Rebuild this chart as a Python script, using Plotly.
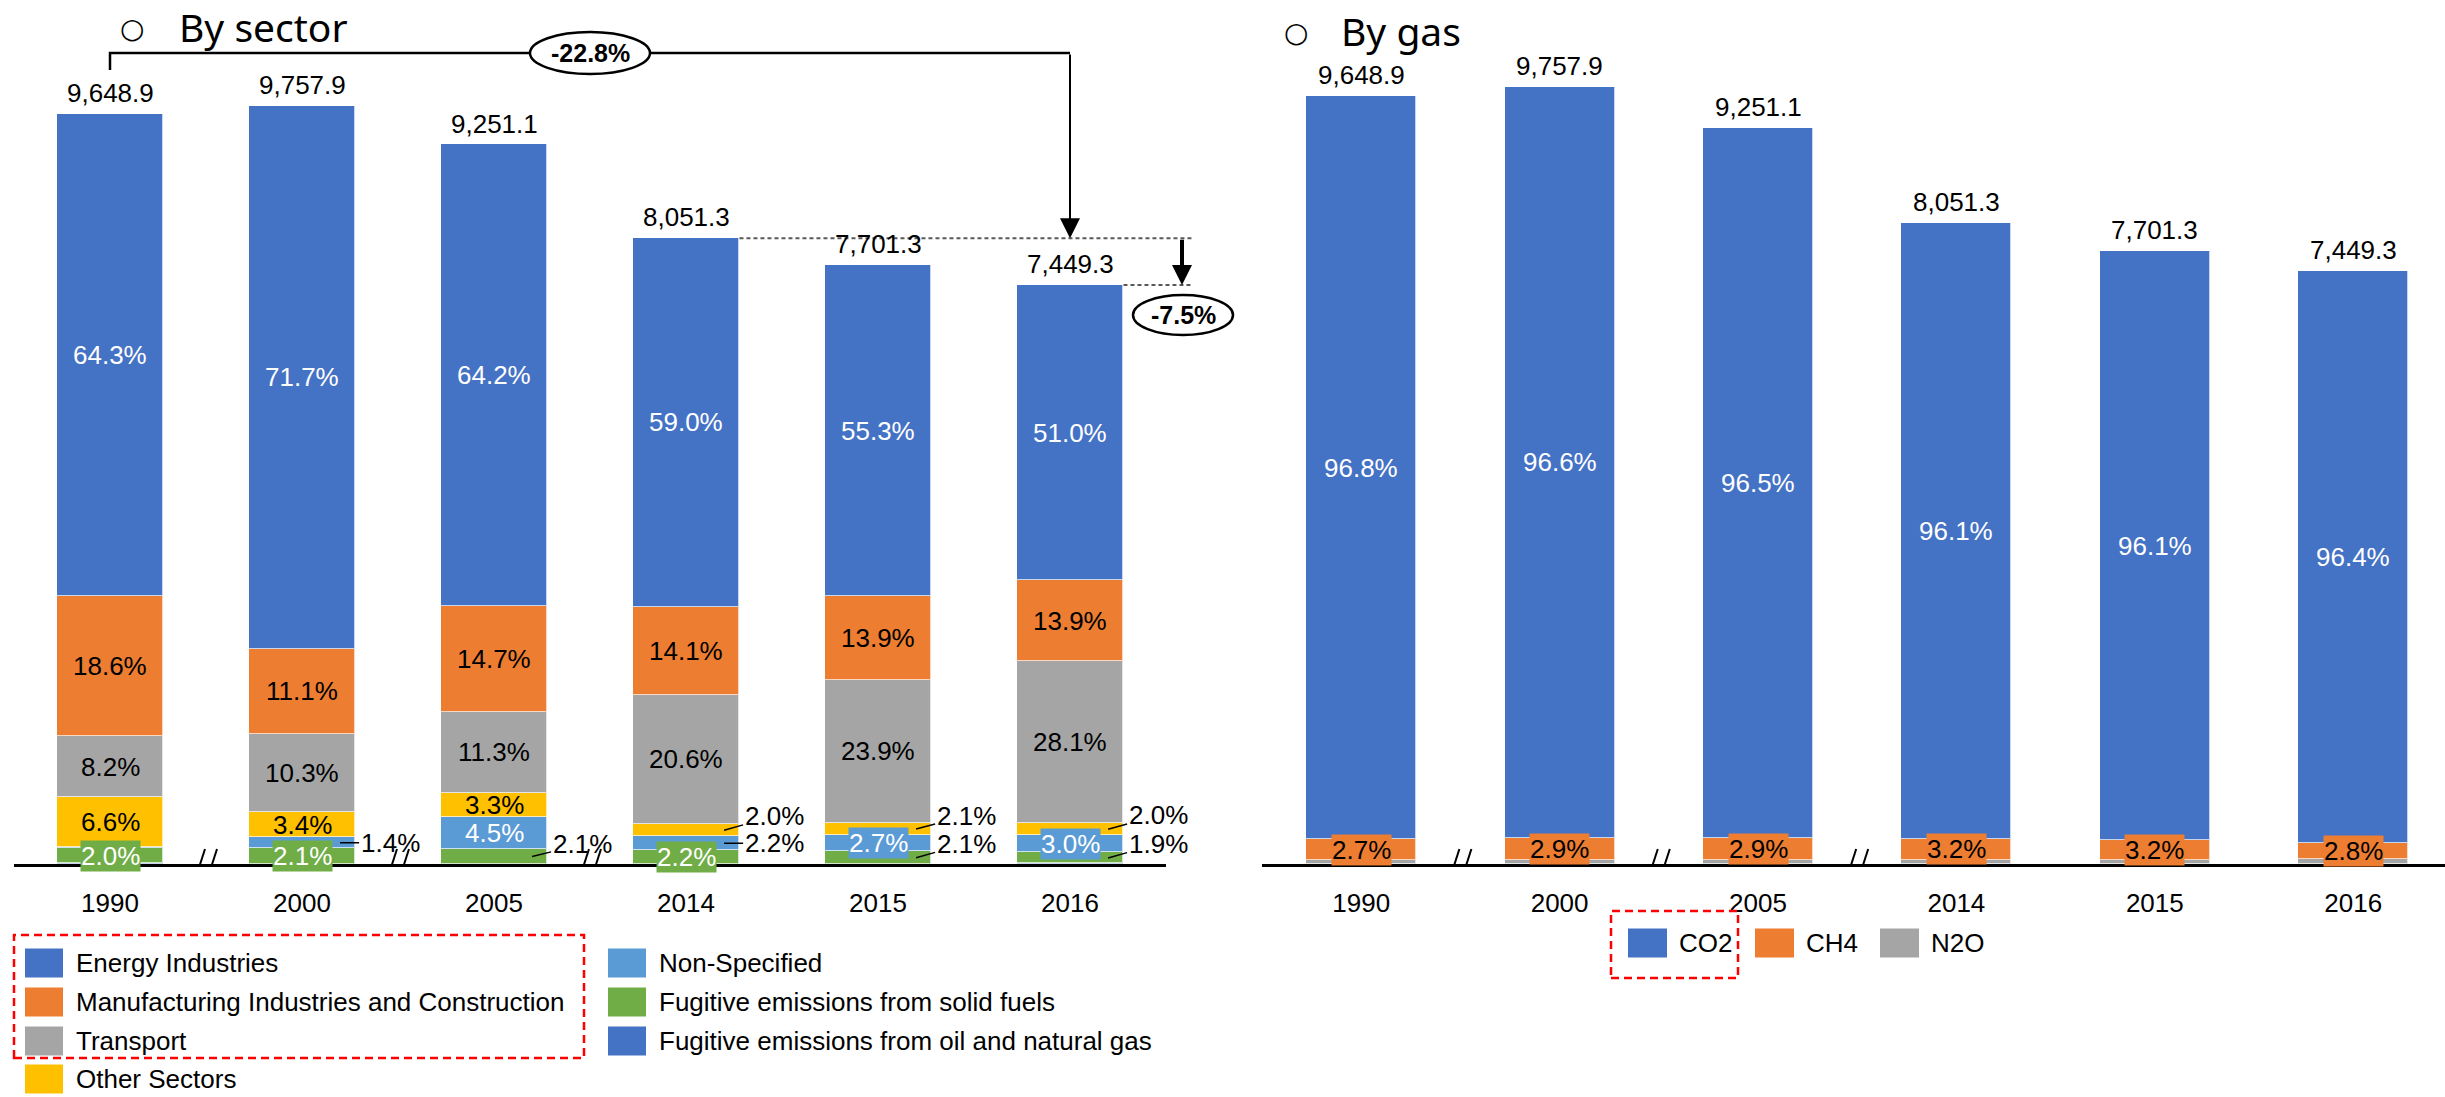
import plotly.graph_objects as go

W, H = 2445, 1097
FONT = "Arial, Liberation Sans, sans-serif"

years = ["1990", "2000", "2005", "2014", "2015", "2016"]
totals = [9648.9, 9757.9, 9251.1, 8051.3, 7701.3, 7449.3]

# Sector shares (%), bottom of the stack first
oil_gas = [0.1, 0.0, 0.0, 0.0, 0.0, 0.1]
solid_fuels = [2.0, 2.1, 2.1, 2.2, 2.1, 1.9]
non_specified = [0.2, 1.4, 4.5, 2.2, 2.7, 3.0]
other_sectors = [6.6, 3.4, 3.3, 2.0, 2.1, 2.0]
transport = [8.2, 10.3, 11.3, 20.6, 23.9, 28.1]
manufacturing = [18.6, 11.1, 14.7, 14.1, 13.9, 13.9]
energy = [64.3, 71.7, 64.2, 59.0, 55.3, 51.0]

# Gas shares (%), bottom of the stack first
n2o = [0.5, 0.5, 0.6, 0.7, 0.7, 0.8]
ch4 = [2.7, 2.9, 2.9, 3.2, 3.2, 2.8]
co2 = [96.8, 96.6, 96.5, 96.1, 96.1, 96.4]

WHITE, BLACK = "white", "black"
IN, BOX = "in", "box"

# name, shares, colour, label colour, label placement per year
sectors = [
    ("Fugitive emissions from oil and natural gas", oil_gas, "#4472C4", WHITE,
     [None] * 6),
    ("Fugitive emissions from solid fuels", solid_fuels, "#70AD47", WHITE,
     [BOX, BOX, ("out", -12), BOX, ("out", -14), ("out", -14)]),
    ("Non-Specified", non_specified, "#5B9BD5", WHITE,
     [None, ("out", 0), IN, ("out", 0), BOX, BOX]),
    ("Other Sectors", other_sectors, "#FFC000", BLACK,
     [IN, IN, IN, ("out", -14), ("out", -13), ("out", -14)]),
    ("Transport", transport, "#A5A5A5", BLACK, [IN] * 6),
    ("Manufacturing Industries and Construction", manufacturing, "#ED7D31", BLACK, [IN] * 6),
    ("Energy Industries", energy, "#4472C4", WHITE, [IN] * 6),
]

gases = [
    ("N2O", n2o, "#A5A5A5", BLACK, [None] * 6),
    ("CH4", ch4, "#ED7D31", BLACK, [BOX] * 6),
    ("CO2", co2, "#4472C4", WHITE, [IN] * 6),
]

# Panel geometry (pixels)
L_X0, L_STEP = 14, 192.0
R_X0, R_STEP = 1262, 198.4
BASE_PX = 864
L_BW, R_BW = 0.557, 0.554


def lx(u):
    """Left-panel category coordinate -> paper fraction."""
    return (L_X0 + (u + 0.5) * L_STEP) / W


def py(px):
    return 1 - px / H


fig = go.Figure()
annotations = []
shapes = []


def add_panel(groups, xa, ya, bw):
    xs = list(range(len(years)))
    cum = [0.0] * len(years)
    for name, shares, color, lab_col, modes in groups:
        vals = [t * s / 100 for t, s in zip(totals, shares)]
        fig.add_trace(go.Bar(
            x=xs, y=vals, name=name, width=bw, marker_color=color,
            marker_line=dict(color="rgba(255,255,255,0.7)", width=1),
            xaxis=xa, yaxis=ya, showlegend=False, hoverinfo="skip"))
        for i, (v, s, m) in enumerate(zip(vals, shares, modes)):
            mid = cum[i] + v / 2
            txt = f"{s:.1f}%"
            if m in (IN, BOX):
                annotations.append(dict(
                    x=i, y=mid, xref=xa, yref=ya, text=txt, showarrow=False,
                    xanchor="center", yanchor="middle",
                    font=dict(family=FONT, size=26, color=lab_col),
                    bgcolor=color if m == BOX else None, borderpad=0))
            elif m is not None:
                # leader line from inside the segment out to the label
                annotations.append(dict(
                    x=i + bw / 2 - 0.08, y=mid, xref=xa, yref=ya, text=txt,
                    showarrow=True, arrowhead=0, arrowwidth=1.5, arrowcolor=BLACK,
                    ax=50, ay=m[1], standoff=0,
                    font=dict(family=FONT, size=26, color=BLACK)))
            cum[i] += v
    for i, t in enumerate(totals):
        annotations.append(dict(
            x=i, y=t, xref=xa, yref=ya, text=f"{t:,.1f}", showarrow=False,
            xanchor="center", yanchor="middle", yshift=21,
            font=dict(family=FONT, size=26, color=BLACK)))
    # axis break marks between non-consecutive years
    for b in (0.5, 1.5, 2.5):
        for dx in (-11, 1):
            shapes.append(dict(
                type="line", xref=xa, yref=ya, xsizemode="pixel", ysizemode="pixel",
                xanchor=b, yanchor=0, x0=dx, x1=dx + 10, y0=-16, y1=15,
                line=dict(color=BLACK, width=2)))


add_panel(sectors, "x", "y", L_BW)
add_panel(gases, "x2", "y2", R_BW)

# Change 1990 -> 2016 bracket
pct_long = (totals[-1] / totals[0] - 1) * 100
pct_short = (totals[-1] / totals[3] - 1) * 100
BRACKET_Y = 10433
shapes.append(dict(type="path", xref="x", yref="y",
                   path=f"M 0,10215 L 0,{BRACKET_Y} L 5,{BRACKET_Y}",
                   line=dict(color=BLACK, width=2.5)))
annotations.append(dict(x=5, y=totals[3], xref="x", yref="y", ax=5, ay=BRACKET_Y,
                        axref="x", ayref="y", text="", showarrow=True, arrowhead=2,
                        arrowsize=2, arrowwidth=2, arrowcolor=BLACK, standoff=0))
shapes.append(dict(type="circle", xref="x", yref="y", xsizemode="pixel", ysizemode="pixel",
                   xanchor=2.5, yanchor=BRACKET_Y, x0=-60, x1=60, y0=-21, y1=21,
                   fillcolor="white", line=dict(color=BLACK, width=2.5)))
annotations.append(dict(x=2.5, y=BRACKET_Y, xref="x", yref="y", text=f"<b>{pct_long:.1f}%</b>",
                        xanchor="center", yanchor="middle", showarrow=False,
                        font=dict(family=FONT, size=25, color=BLACK)))

# Change 2014 -> 2016 marker
DASH_END = 1193 / W
for i in (3, 5):
    shapes.append(dict(type="line", xref="paper", yref="y",
                       x0=lx(i + L_BW / 2), x1=DASH_END, y0=totals[i], y1=totals[i],
                       line=dict(color="#595959", width=2, dash="4px,3px")))
annotations.append(dict(x=1182 / W, y=totals[-1], xref="paper", yref="y",
                        ax=0, ay=totals[3], axref="pixel", ayref="y", text="",
                        showarrow=True, arrowhead=2, arrowsize=1, arrowwidth=4,
                        arrowcolor=BLACK, standoff=0))
shapes.append(dict(type="circle", xref="paper", yref="paper",
                   x0=1133 / W, x1=1233 / W, y0=py(335), y1=py(295),
                   fillcolor="white", line=dict(color=BLACK, width=2.5)))
annotations.append(dict(x=1183 / W, y=py(315), xref="paper", yref="paper",
                        text=f"<b>{pct_short:.1f}%</b>", showarrow=False,
                        xanchor="center", yanchor="middle",
                        font=dict(family=FONT, size=25, color=BLACK)))

# Panel titles
for cx, cy, tx, ty, title in ((132, 29, 177, 27, "By sector"), (1296, 33, 1339, 30, "By gas")):
    annotations.append(dict(x=cx / W, y=py(cy), xref="paper", yref="paper", text="○",
                            xanchor="center", yanchor="middle", showarrow=False,
                            font=dict(family="DejaVu Sans", size=28, color=BLACK)))
    annotations.append(dict(x=tx / W, y=py(ty), xref="paper", yref="paper", text=title,
                            xanchor="left", yanchor="middle", showarrow=False,
                            font=dict(family="Noto Sans", size=39, color=BLACK)))


# Legends drawn as swatches + labels
def legend_item(x_sw, y_c, color, label, sw=38, sh=29, gap=11):
    shapes.append(dict(type="rect", xref="paper", yref="paper",
                       x0=x_sw / W, x1=(x_sw + sw) / W,
                       y0=py(y_c + sh / 2), y1=py(y_c - sh / 2),
                       fillcolor=color, line=dict(width=0)))
    annotations.append(dict(x=(x_sw + sw + gap) / W, y=py(y_c), xref="paper", yref="paper",
                            text=label, xanchor="left", yanchor="middle", showarrow=False,
                            font=dict(family=FONT, size=26, color=BLACK)))


by_name = {s[0]: s[2] for s in sectors}
col1 = ["Energy Industries", "Manufacturing Industries and Construction", "Transport", "Other Sectors"]
col2 = ["Non-Specified", "Fugitive emissions from solid fuels", "Fugitive emissions from oil and natural gas"]
rows = [963, 1002, 1041, 1079]
for name, yc in zip(col1, rows):
    legend_item(25, yc, by_name[name], name)
for name, yc in zip(col2, rows):
    legend_item(608, yc, by_name[name], name)
shapes.append(dict(type="rect", xref="paper", yref="paper",
                   x0=14 / W, x1=584 / W, y0=py(1058), y1=py(935),
                   line=dict(color="#FF0000", width=2.5, dash="8px,5px")))

gas_color = {g[0]: g[2] for g in gases}
for name, xs in (("CO2", 1628), ("CH4", 1755), ("N2O", 1880)):
    legend_item(xs, 943, gas_color[name], name, sw=39, sh=29, gap=10)
shapes.append(dict(type="rect", xref="paper", yref="paper",
                   x0=1611 / W, x1=1738 / W, y0=py(978), y1=py(911),
                   line=dict(color="#FF0000", width=2.5, dash="8px,5px")))

axis_common = dict(showline=True, linecolor=BLACK, linewidth=3, showgrid=False,
                   zeroline=False, tickmode="array", tickvals=list(range(6)),
                   ticktext=years, ticks="", ticklabelstandoff=14,
                   tickfont=dict(family=FONT, size=26, color=BLACK), fixedrange=True)
yaxis_common = dict(visible=False, showgrid=False, zeroline=False,
                    domain=[(H - BASE_PX) / H, 1], fixedrange=True)

fig.update_layout(
    width=W, height=H, margin=dict(l=0, r=0, t=0, b=0),
    paper_bgcolor="white", plot_bgcolor="white",
    barmode="stack", bargap=0,
    xaxis=dict(domain=[L_X0 / W, (L_X0 + 6 * L_STEP) / W], range=[-0.5, 5.5],
               anchor="y", **axis_common),
    xaxis2=dict(domain=[R_X0 / W, 1.0], range=[-0.5, (W - R_X0) / R_STEP - 0.5],
                anchor="y2", **axis_common),
    yaxis=dict(range=[0, BASE_PX / (750 / totals[0])], anchor="x", **yaxis_common),
    yaxis2=dict(range=[0, BASE_PX / (768 / totals[0])], anchor="x2", **yaxis_common),
    annotations=annotations,
    shapes=shapes,
    showlegend=False,
)

fig.write_html("out.html")
